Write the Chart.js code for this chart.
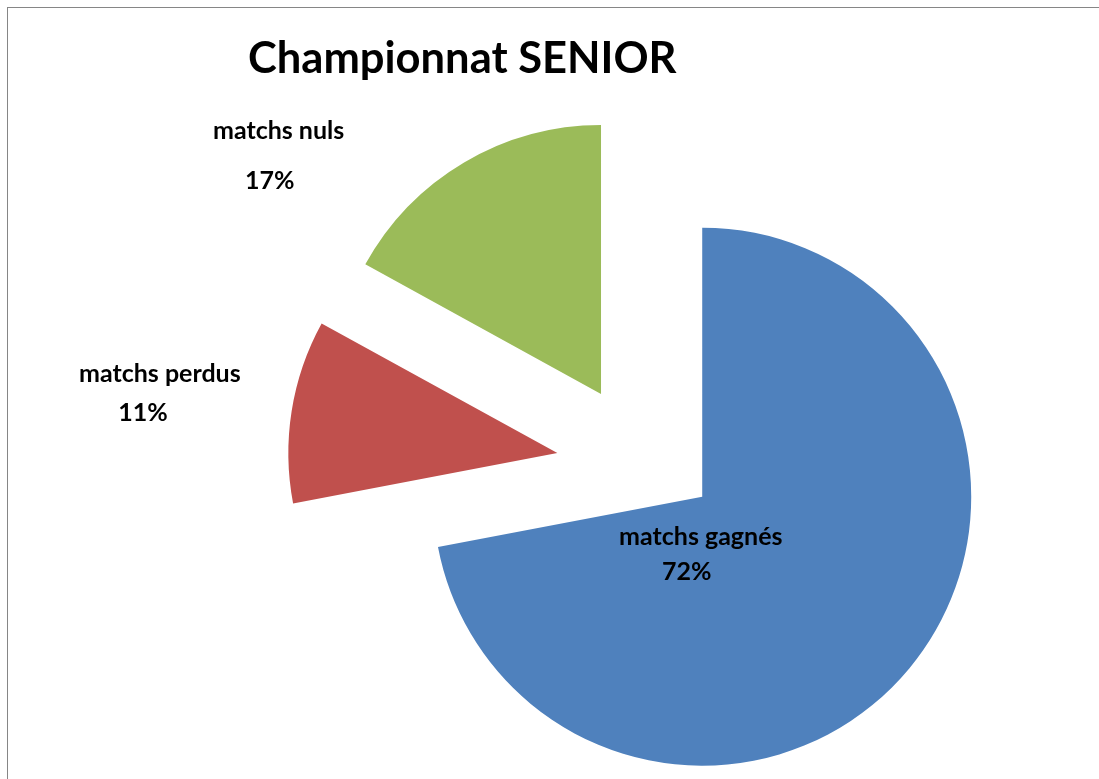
<!DOCTYPE html>
<html lang="fr">
<head>
    <meta charset="UTF-8">
    <title>Championnat SENIOR</title>
    <script src="https://cdn.jsdelivr.net/npm/chart.js"></script>
    <style>
        html, body {
            margin: 0;
            padding: 0;
            background: #ffffff;
        }

        #wrap {
            position: relative;
            width: 1099px;
            height: 779px;
            overflow: hidden;
        }

        #frame {
            position: absolute;
            left: 7px;
            top: 7px;
            width: 1200px;
            height: 900px;
            border-left: 1px solid #868686;
            border-top: 1px solid #868686;
        }

        canvas {
            position: absolute;
            left: 0;
            top: 0;
        }
    </style>
</head>
<body>
    <div id="wrap">
        <div id="frame"></div>
        <canvas id="pie-chart" width="1099" height="779"></canvas>
    </div>

    <script>
        // données
        const categories = ['matchs gagnés', 'matchs perdus', 'matchs nuls'];
        const percentages = [72, 11, 17];

        // styles
        const sliceColors = ['#4F81BD', '#C0504D', '#9BBB59'];
        const explodeDistance = [50, 107, 94.6];    // écartement de chaque part (px)
        const explodeTurn = [0, -2.7, -10.9];       // correction de direction (degrés)
        const labelAngle = [181.4, 278.5, 306.4];   // degrés, sens horaire depuis midi
        const labelDistance = [0.215, 1.494, 1.489];// en fraction du rayon
        const labelGap = [35, 39, 50];              // écart entre les deux lignes
        const labelPctShift = [-14, -17, -9];       // décalage horizontal du pourcentage

        const fontFamily = 'Lato, "Open Sans", sans-serif';

        // écarte les parts (bissectrice + petite correction)
        const explodePlugin = {
            id: 'explode',
            afterDatasetsUpdate(chart) {
                const meta = chart.getDatasetMeta(0);
                meta.data.forEach((arc, i) => {
                    const dir = (arc.startAngle + arc.endAngle) / 2 + explodeTurn[i] * Math.PI / 180;
                    arc.x += Math.cos(dir) * explodeDistance[i];
                    arc.y += Math.sin(dir) * explodeDistance[i];
                });
            }
        };

        // étiquettes "nom" + "pourcentage"
        const labelPlugin = {
            id: 'sliceLabels',
            afterDatasetsDraw(chart) {
                const ctx = chart.ctx;
                const meta = chart.getDatasetMeta(0);
                ctx.save();
                ctx.fillStyle = '#000000';
                ctx.font = 'bold 25px ' + fontFamily;
                ctx.textAlign = 'center';
                ctx.textBaseline = 'middle';
                meta.data.forEach((arc, i) => {
                    const a = (labelAngle[i] - 90) * Math.PI / 180;
                    const r = arc.outerRadius * labelDistance[i];
                    const x = arc.x + Math.cos(a) * r;
                    const y = arc.y + Math.sin(a) * r;
                    ctx.fillText(categories[i], x, y - labelGap[i] / 2);
                    ctx.fillText(percentages[i] + '%', x + labelPctShift[i], y + labelGap[i] / 2);
                });
                ctx.restore();
            }
        };

        const ctx = document.getElementById('pie-chart').getContext('2d');
        const chart = new Chart(ctx, {
            type: 'pie',
            data: {
                labels: categories,
                datasets: [{
                    data: percentages,
                    backgroundColor: sliceColors,
                    borderWidth: 0,
                    radius: 269,
                    clip: false
                }]
            },
            options: {
                responsive: false,
                animation: false,
                events: [],
                layout: {
                    padding: { left: 248, right: 19.6, top: 0, bottom: 0 }
                },
                plugins: {
                    legend: { display: false },
                    tooltip: { enabled: false },
                    title: {
                        display: true,
                        text: 'Championnat SENIOR',
                        align: 'start',
                        color: '#000000',
                        font: { family: fontFamily, size: 43.5, weight: 'bold', lineHeight: 1.2 },
                        padding: { top: 33, bottom: 65.4 }
                    }
                }
            },
            plugins: [explodePlugin, labelPlugin]
        });
    </script>
</body>
</html>
